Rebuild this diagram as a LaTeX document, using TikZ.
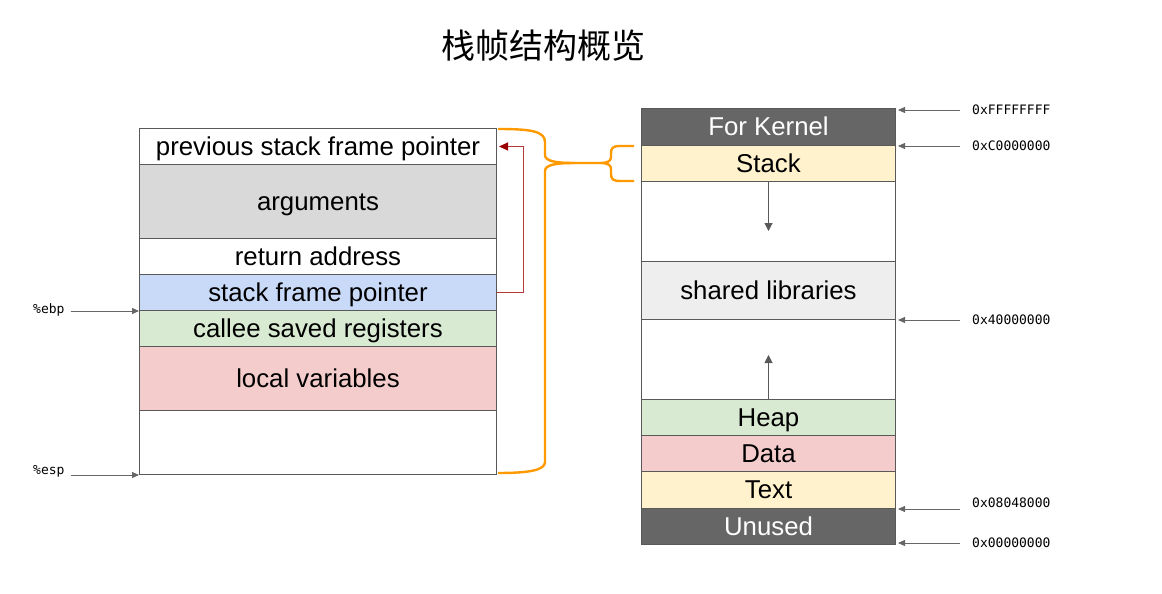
\documentclass[tikz,border=0pt]{standalone}
\usepackage{fontspec}
\setmainfont{Liberation Sans}
\setmonofont{DejaVu Sans Mono}
\newfontfamily\cjk{Noto Sans CJK SC}
\usetikzlibrary{arrows.meta,positioning,calc}
\definecolor{edge}{HTML}{595959}
\definecolor{arggray}{HTML}{D9D9D9}
\definecolor{ptrblue}{HTML}{C9DAF8}
\definecolor{savegreen}{HTML}{D9EAD3}
\definecolor{localpink}{HTML}{F4CCCC}
\definecolor{darkcell}{HTML}{666666}
\definecolor{paleyellow}{HTML}{FFF2CC}
\definecolor{libgray}{HTML}{EEEEEE}
\definecolor{bracecol}{HTML}{FF9900}
\definecolor{linkred}{HTML}{B23A3A}
\definecolor{tipred}{HTML}{990000}
\tikzset{cell/.style={draw=edge,line width=1pt,anchor=north west,minimum width=357pt,inner sep=0pt,
    text height=22.6pt,text depth=5.2pt,font=\fontsize{25.8}{30}\selectfont},
  memcell/.style={cell,minimum width=254pt},
  addr/.style={anchor=west,inner sep=0pt,font=\ttfamily\fontsize{13}{15}\selectfont},
  ptr/.style={-{Triangle[length=7pt,width=6pt]},draw=darkcell,line width=0.9pt},
  growarrow/.style={-{Triangle[length=8pt,width=8pt]},draw=edge,line width=1pt},
  link/.style={-{Triangle[length=9pt,width=8pt,color=tipred]},draw=linkred,line width=1pt},
  brace/.style={draw=bracecol,line width=2.4pt,line join=round}}

\begin{document}
\begin{tikzpicture}[x=1pt,y=-1pt]
\useasboundingbox (0,0) rectangle (1162,594);
\node[font=\cjk\fontsize{34}{40}\selectfont] (title) at (543,46) {栈帧结构概览};
% stack frame
\node[cell,minimum height=36pt] (prev) at (139,128) {previous stack frame pointer};
\node[cell,fill=arggray,minimum height=74pt] (args) at (139,164) {arguments};
\node[cell,minimum height=36pt] (ret) at (139,238) {return address};
\node[cell,fill=ptrblue,minimum height=36pt] (sfp) at (139,274) {stack frame pointer};
\node[cell,fill=savegreen,minimum height=36pt] (callee) at (139,310) {callee saved registers};
\node[cell,fill=localpink,minimum height=64pt] (locals) at (139,346) {local variables};
\node[cell,minimum height=64pt] (low) at (139,410) {};
\node[addr] (ebp) at (33,310) {\%ebp};
\node[addr] (esp) at (33,471) {\%esp};
\draw[ptr] ([xshift=6pt]ebp.east |- sfp.south west) -- (sfp.south west);
\draw[ptr] ([xshift=6pt]esp.east |- low.south west) -- (low.south west);
\draw[link] (sfp.east) -- ++(26,0) |- ([xshift=2pt]prev.east);
% memory layout
\node[memcell,fill=darkcell,text=white,minimum height=37pt] (kernel) at (641,108) {For Kernel};
\node[memcell,fill=paleyellow,minimum height=36pt] (stack) at (641,145) {Stack};
\node[memcell,minimum height=80pt] (gap1) at (641,181) {};
\node[memcell,fill=libgray,minimum height=58pt] (libs) at (641,261) {shared libraries};
\node[memcell,minimum height=80pt] (gap2) at (641,319) {};
\node[memcell,fill=savegreen,minimum height=36pt] (heap) at (641,399) {Heap};
\node[memcell,fill=localpink,minimum height=36pt] (data) at (641,435) {Data};
\node[memcell,fill=paleyellow,minimum height=37pt] (text) at (641,471) {Text};
\node[memcell,fill=darkcell,text=white,minimum height=36pt] (unused) at (641,508) {Unused};
\coordinate (downend) at ([yshift=-49pt]stack.south);
\coordinate (upend) at ([yshift=44pt]heap.north);
\draw[growarrow] (stack.south) -- (downend);
\draw[growarrow] (heap.north) -- (upend);
% addresses
\node[addr] (a1) at (972,110) {0xFFFFFFFF};
\node[addr] (a2) at (972,146) {0xC0000000};
\node[addr] (a3) at (972,320) {0x40000000};
\node[addr] (a4) at (972,503) {0x08048000};
\node[addr] (a5) at (972,543) {0x00000000};
\draw[ptr] ([xshift=-12pt]a1.west) -- ([xshift=2pt]a1.west -| kernel.east);
\draw[ptr] ([xshift=-12pt]a2.west) -- ([xshift=2pt]a2.west -| stack.east);
\draw[ptr] ([xshift=-12pt]a3.west) -- ([xshift=2pt]a3.west -| libs.east);
\draw[ptr] ([xshift=-12pt]a4.west |- text.south east) -- ([xshift=2pt]text.south east);
\draw[ptr] ([xshift=-12pt]a5.west) -- ([xshift=2pt]a5.west -| unused.east);
% braces
\coordinate (tip) at (600,163);
\draw[brace] (498,129) .. controls (530,129) and (545,131) .. (545,142) -- (545,155) .. controls (545,161) and (555,163) .. (575,163) -- (tip);
\draw[brace] (575,163) .. controls (555,163) and (545,165) .. (545,171) -- (545,462) .. controls (545,470) and (530,473) .. (498,473);
\draw[brace] (634,146) -- (620,146) .. controls (613,146) and (611,148) .. (611,153) -- (611,157) .. controls (611,161) and (608,163) .. (tip) .. controls (608,163) and (611,165) .. (611,169) -- (611,174) .. controls (611,179) and (613,181) .. (620,181) -- (634,181);
\end{tikzpicture}
\end{document}
